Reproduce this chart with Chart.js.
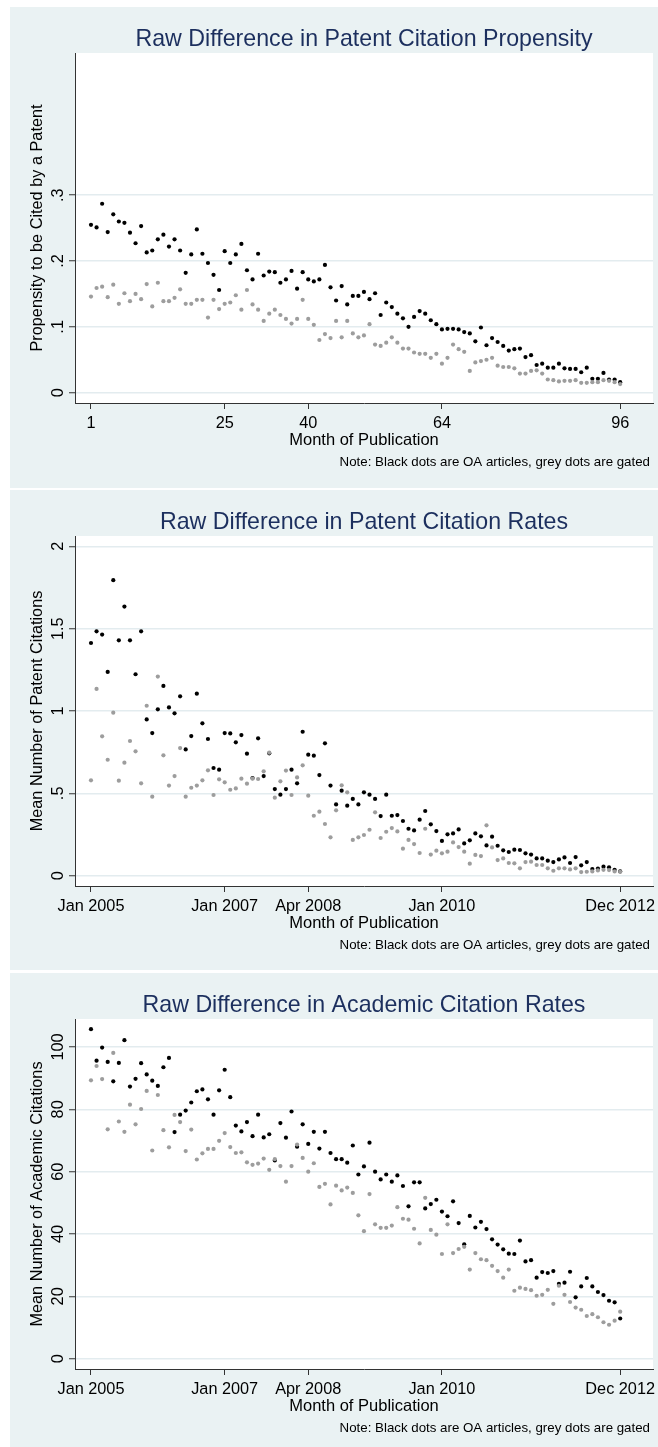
<!DOCTYPE html>
<html>
<head>
<meta charset="utf-8">
<script src="https://cdn.jsdelivr.net/npm/chart.js@4.4.0/dist/chart.umd.min.js"></script>
<style>
  html, body { margin: 0; padding: 0; background: #fff; }
  body { width: 658px; height: 1447px; overflow: hidden; position: relative; }
  .panel { position: absolute; left: 10px; width: 648px; background: #eaf2f3; overflow: hidden; }
  .panel canvas { display: block; }
</style>
</head>
<body>
<div class="panel" style="top:7px;height:481px"><canvas id="c1" width="648" height="481"></canvas></div>
<div class="panel" style="top:490px;height:480px"><canvas id="c2" width="648" height="480"></canvas></div>
<div class="panel" style="top:973px;height:474px"><canvas id="c3" width="648" height="481"></canvas></div>
<script>
// month index 1..96 = Jan 2005 .. Dec 2012
const xTicks = [1, 25, 40, 64, 96];
const monthTickLabels = ['1', '25', '40', '64', '96'];
const dateTickLabels = ['Jan 2005', 'Jan 2007', 'Apr 2008', 'Jan 2010', 'Dec 2012'];

const propensityTicks = [0, 0.1, 0.2, 0.3];
const propensityTickLabels = ['0', '.1', '.2', '.3'];
const patentTicks = [0, 0.5, 1, 1.5, 2];
const patentTickLabels = ['0', '.5', '1', '1.5', '2'];
const academicTicks = [0, 20, 40, 60, 80, 100];
const academicTickLabels = ['0', '20', '40', '60', '80', '100'];

// black dots (OA) and grey dots (gated), one value per month
const oaPropensity = [
  0.255, 0.251, 0.287, 0.244, 0.271, 0.260, 0.258, 0.243, 0.227, 0.253,
  0.213, 0.216, 0.233, 0.240, 0.222, 0.233, 0.216, 0.182, 0.210, 0.248,
  0.211, 0.197, 0.179, 0.156, 0.215, 0.197, 0.210, 0.226, 0.186, 0.172,
  0.211, 0.178, 0.184, 0.183, 0.167, 0.172, 0.185, 0.158, 0.183, 0.172,
  0.169, 0.172, 0.194, 0.160, 0.140, 0.162, 0.134, 0.147, 0.147, 0.153,
  0.142, 0.151, 0.118, 0.137, 0.130, 0.120, 0.113, 0.100, 0.115, 0.124,
  0.120, 0.110, 0.104, 0.096, 0.097, 0.097, 0.096, 0.092, 0.090, 0.078,
  0.099, 0.072, 0.083, 0.077, 0.071, 0.064, 0.066, 0.067, 0.054, 0.057,
  0.042, 0.044, 0.038, 0.038, 0.044, 0.037, 0.036, 0.036, 0.031, 0.038,
  0.021, 0.021, 0.030, 0.020, 0.020, 0.016
];
const gatedPropensity = [
  0.146, 0.159, 0.161, 0.145, 0.164, 0.135, 0.151, 0.139, 0.150, 0.142,
  0.165, 0.131, 0.167, 0.139, 0.139, 0.144, 0.157, 0.135, 0.135, 0.141,
  0.141, 0.114, 0.141, 0.127, 0.135, 0.137, 0.148, 0.126, 0.156, 0.134,
  0.126, 0.109, 0.120, 0.126, 0.118, 0.112, 0.105, 0.112, 0.141, 0.112,
  0.103, 0.080, 0.089, 0.083, 0.109, 0.084, 0.109, 0.090, 0.084, 0.087,
  0.104, 0.073, 0.071, 0.076, 0.084, 0.076, 0.067, 0.067, 0.061, 0.059,
  0.059, 0.053, 0.059, 0.044, 0.053, 0.073, 0.066, 0.062, 0.033, 0.046,
  0.048, 0.050, 0.053, 0.041, 0.039, 0.039, 0.037, 0.029, 0.029, 0.033,
  0.034, 0.029, 0.020, 0.019, 0.017, 0.018, 0.018, 0.019, 0.015, 0.015,
  0.016, 0.016, 0.019, 0.018, 0.016, 0.013
];

const oaPatentRate = [
  1.413, 1.484, 1.464, 1.237, 1.794, 1.429, 1.634, 1.429, 1.223, 1.484,
  0.949, 0.866, 1.010, 1.152, 1.022, 0.986, 1.089, 0.767, 0.848, 1.105,
  0.925, 0.830, 0.654, 0.644, 0.866, 0.864, 0.810, 0.854, 0.741, 0.593,
  0.834, 0.605, 0.743, 0.526, 0.492, 0.526, 0.644, 0.561, 0.874, 0.735,
  0.729, 0.611, 0.804, 0.547, 0.433, 0.516, 0.425, 0.466, 0.433, 0.506,
  0.492, 0.466, 0.362, 0.492, 0.364, 0.368, 0.332, 0.285, 0.275, 0.340,
  0.393, 0.312, 0.271, 0.211, 0.251, 0.257, 0.281, 0.196, 0.215, 0.257,
  0.239, 0.184, 0.237, 0.182, 0.154, 0.144, 0.158, 0.156, 0.136, 0.128,
  0.105, 0.105, 0.091, 0.083, 0.099, 0.111, 0.077, 0.113, 0.063, 0.083,
  0.040, 0.043, 0.055, 0.051, 0.036, 0.026
];
const gatedPatentRate = [
  0.579, 1.134, 0.846, 0.704, 0.990, 0.577, 0.686, 0.818, 0.755, 0.561,
  1.032, 0.480, 1.209, 0.731, 0.547, 0.605, 0.775, 0.480, 0.534, 0.547,
  0.579, 0.640, 0.490, 0.585, 0.567, 0.522, 0.530, 0.589, 0.559, 0.589,
  0.587, 0.634, 0.747, 0.474, 0.573, 0.638, 0.490, 0.597, 0.670, 0.486,
  0.364, 0.389, 0.314, 0.233, 0.397, 0.549, 0.506, 0.217, 0.233, 0.247,
  0.279, 0.385, 0.229, 0.267, 0.289, 0.269, 0.164, 0.217, 0.192, 0.138,
  0.285, 0.128, 0.152, 0.136, 0.146, 0.202, 0.174, 0.146, 0.073, 0.126,
  0.119, 0.306, 0.172, 0.095, 0.105, 0.077, 0.075, 0.045, 0.083, 0.085,
  0.065, 0.065, 0.045, 0.030, 0.045, 0.045, 0.038, 0.045, 0.022, 0.024,
  0.026, 0.032, 0.036, 0.034, 0.026, 0.024
];

const oaAcademicRate = [
  105.7, 95.6, 99.8, 95.2, 89.0, 94.9, 102.2, 87.3, 89.8, 94.8,
  91.2, 89.2, 87.5, 93.5, 96.5, 72.7, 78.3, 79.6, 82.2, 85.8,
  86.4, 83.2, 78.3, 86.1, 92.7, 83.9, 74.8, 72.9, 75.9, 71.4,
  78.3, 71.0, 72.0, 63.6, 75.6, 70.9, 79.3, 68.0, 75.2, 68.9,
  72.8, 67.4, 72.8, 66.0, 64.0, 64.0, 62.9, 68.4, 59.1, 61.7,
  69.3, 60.0, 57.5, 59.1, 56.8, 58.8, 55.4, 48.9, 56.6, 56.6,
  48.2, 49.6, 51.0, 47.2, 45.7, 50.5, 43.5, 36.7, 45.8, 42.1,
  43.9, 41.6, 38.3, 36.6, 35.1, 33.7, 33.6, 37.9, 31.2, 31.6,
  26.0, 27.8, 27.5, 28.1, 24.0, 24.4, 27.9, 19.7, 23.2, 25.9,
  23.2, 21.4, 20.4, 18.6, 18.1, 12.9
];
const gatedAcademicRate = [
  89.3, 93.9, 89.7, 73.6, 98.1, 76.1, 72.8, 81.5, 75.2, 80.1,
  85.9, 66.8, 84.6, 73.3, 67.8, 78.2, 75.9, 66.6, 73.5, 63.9,
  65.9, 67.3, 67.3, 69.9, 72.4, 67.9, 66.0, 66.2, 63.0, 62.2,
  62.6, 64.2, 60.6, 64.0, 61.8, 56.8, 61.8, 68.7, 64.4, 60.0,
  62.7, 55.1, 56.1, 49.5, 55.5, 54.0, 54.9, 53.2, 46.0, 40.9,
  52.8, 43.1, 42.0, 42.0, 42.7, 48.6, 44.9, 44.6, 41.7, 37.0,
  51.6, 41.3, 39.8, 33.6, 43.1, 33.9, 35.2, 35.9, 28.6, 33.9,
  31.9, 31.6, 29.8, 28.1, 26.0, 28.6, 21.8, 22.8, 22.4, 22.0,
  20.2, 20.5, 22.1, 17.6, 23.4, 20.5, 18.2, 16.4, 15.7, 13.7,
  14.3, 13.3, 11.7, 10.9, 12.2, 15.1
];

const FONT = "'Liberation Sans', Arial, Helvetica, sans-serif";
const NOTE = 'Note: Black dots are OA articles, grey dots are gated';

// white plot region, rotated y labels (Stata style), title and note
const stataLook = {
  id: 'stataLook',
  beforeDraw(chart) {
    const { ctx, chartArea: a } = chart;
    ctx.save();
    ctx.fillStyle = '#ffffff';
    ctx.fillRect(a.left, a.top, a.right - a.left, a.bottom - a.top);
    ctx.restore();
  },
  afterDraw(chart, args, opts) {
    const { ctx, chartArea: a } = chart;
    const y = chart.scales.y;
    ctx.save();
    ctx.fillStyle = '#000';
    ctx.font = '16.3px ' + FONT;
    ctx.textAlign = 'center';
    ctx.textBaseline = 'alphabetic';
    y.ticks.forEach((t, i) => {
      ctx.save();
      ctx.translate(a.left - 12, y.getPixelForValue(t.value));
      ctx.rotate(-Math.PI / 2);
      ctx.fillText(opts.yLabels[i], 0, 0);
      ctx.restore();
    });
    ctx.fillStyle = '#1c2f5e';
    ctx.font = '23.2px ' + FONT;
    ctx.fillText(opts.title, (a.left + a.right) / 2, 39);
    ctx.fillStyle = '#000';
    ctx.font = '13.3px ' + FONT;
    ctx.textAlign = 'right';
    ctx.fillText(NOTE, 640, 459);
    ctx.restore();
  }
};

function drawPanel(id, height, title, yTitle, oa, gated, yMin, yMax, yTicks, yLabels, xLabels) {
  new Chart(document.getElementById(id), {
    type: 'scatter',
    data: {
      datasets: [
        // grey dataset first so it is painted over the black dots
        {
          label: 'Gated',
          data: gated.map((v, i) => ({ x: i + 1, y: v })),
          backgroundColor: '#9d9d9d',
          pointRadius: 2.1,
          pointBorderWidth: 0
        },
        {
          label: 'OA',
          data: oa.map((v, i) => ({ x: i + 1, y: v })),
          backgroundColor: '#000000',
          pointRadius: 2.1,
          pointBorderWidth: 0
        }
      ]
    },
    options: {
      responsive: false,
      animation: false,
      devicePixelRatio: 1,
      events: [],
      layout: { padding: { top: 46, left: 0, right: 5, bottom: 0 } },
      plugins: {
        legend: { display: false },
        tooltip: { enabled: false },
        stataLook: { title: title, yLabels: yLabels }
      },
      scales: {
        x: {
          type: 'linear',
          min: -1.87,
          max: 101.89,
          afterBuildTicks: s => { s.ticks = xTicks.map(v => ({ value: v })); },
          afterFit: s => { s.height = height - 396; s.paddingLeft = 0; s.paddingRight = 0; },
          ticks: {
            autoSkip: false,
            minRotation: 0,
            maxRotation: 0,
            padding: 5,
            color: '#000',
            font: { family: FONT, size: 16.3 },
            callback: (v, i) => xLabels[i]
          },
          grid: { drawOnChartArea: false, drawTicks: true, tickLength: 6, tickColor: '#333', tickWidth: 1 },
          border: { display: true, color: '#333', width: 1 },
          title: {
            display: true,
            text: 'Month of Publication',
            color: '#000',
            font: { family: FONT, size: 16.5 },
            padding: { top: 0, bottom: height - 433 - 9.9 }
          }
        },
        y: {
          min: yMin,
          max: yMax,
          afterBuildTicks: s => { s.ticks = yTicks.map(v => ({ value: v })); },
          afterFit: s => { s.width = 65; },
          ticks: { display: false },
          grid: { color: '#e3ecef', lineWidth: 1.5, drawTicks: true, tickLength: 6, tickColor: '#333', tickWidth: 1 },
          border: { display: true, color: '#333', width: 1 },
          title: {
            display: true,
            text: yTitle,
            color: '#000',
            font: { family: FONT, size: 16.3 },
            padding: { top: 18.1, bottom: 0 }
          }
        }
      }
    },
    plugins: [stataLook]
  });
}

drawPanel('c1', 481, 'Raw Difference in Patent Citation Propensity', 'Propensity to be Cited by a Patent',
  oaPropensity, gatedPropensity, -0.0157, 0.516, propensityTicks, propensityTickLabels, monthTickLabels);
drawPanel('c2', 480, 'Raw Difference in Patent Citation Rates', 'Mean Number of Patent Citations',
  oaPatentRate, gatedPatentRate, -0.0625, 2.0625, patentTicks, patentTickLabels, dateTickLabels);
drawPanel('c3', 481, 'Raw Difference in Academic Citation Rates', 'Mean Number of Academic Citations',
  oaAcademicRate, gatedAcademicRate, -3.30, 108.98, academicTicks, academicTickLabels, dateTickLabels);
</script>
</body>
</html>
